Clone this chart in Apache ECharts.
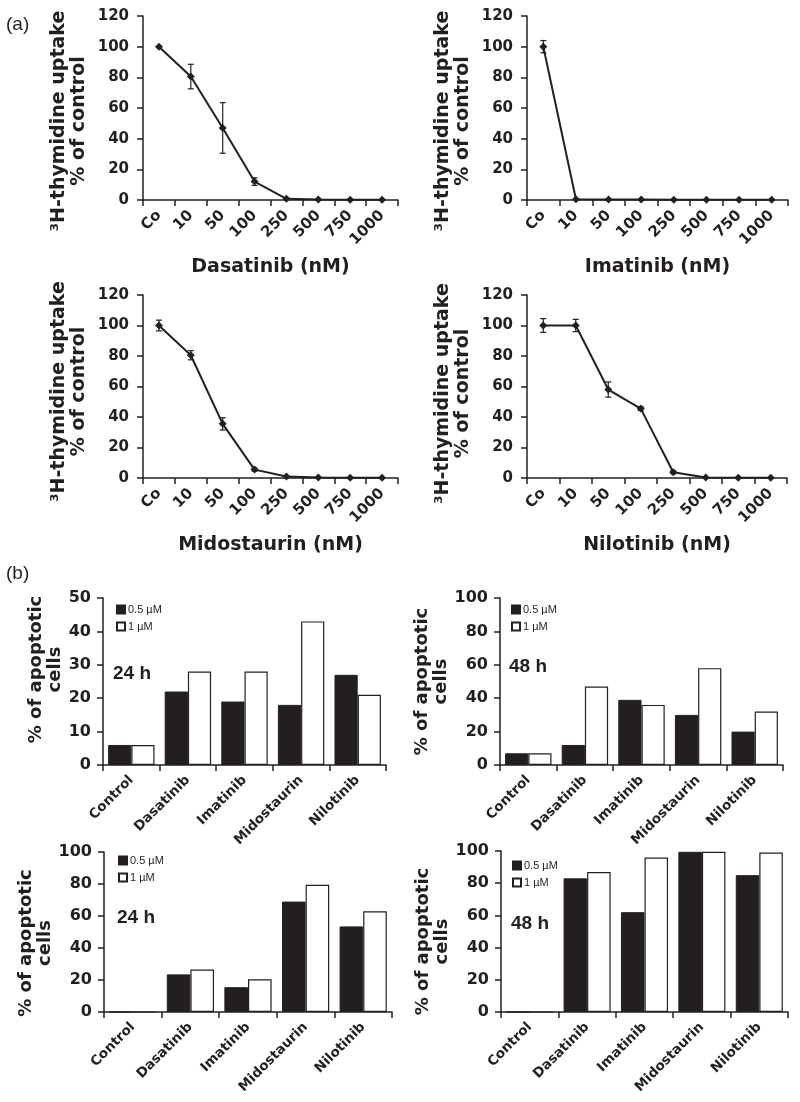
<!DOCTYPE html>
<html><head><meta charset="utf-8">
<script src="https://cdn.jsdelivr.net/npm/echarts@6/dist/echarts.min.js"></script>
<style>html,body{margin:0;padding:0;background:#fff}#c{width:800px;height:1102px}</style>
</head><body><div id="c"></div>
<script>
// ---- data: panel (a) proliferation ----
const doseCats = ['Co', '10', '50', '100', '250', '500', '750', '1000'];
const dasatinib    = [100, 80.5, 47, 12, 0.8, 0.3, 0.2, 0.2];
const dasatinibErr = [0, 8, 16.5, 2.5, 0, 0, 0, 0];
const imatinib     = [100, 0.5, 0.3, 0.3, 0.2, 0.2, 0.2, 0.2];
const imatinibErr  = [4, 0, 0, 0, 0, 0, 0, 0];
const midostaurin    = [100, 80.5, 35.5, 5.5, 1, 0.3, 0.2, 0.2];
const midostaurinErr = [3.5, 3, 4, 1, 0, 0, 0, 0];
const nilotinib    = [100, 100, 58, 45.5, 3.8, 0.3, 0.2, 0.2];
const nilotinibErr = [4.5, 4, 5, 1.2, 1, 0, 0, 0];
const lineTitles = ['Dasatinib (nM)', 'Imatinib (nM)', 'Midostaurin (nM)', 'Nilotinib (nM)'];

// ---- data: panel (b) apoptosis ----
const drugCats = ['Control', 'Dasatinib', 'Imatinib', 'Midostaurin', 'Nilotinib'];
const seriesNames = ['0.5 µM', '1 µM'];
const top24Low  = [6, 22, 19, 18, 27];
const top24High = [6, 28, 28, 43, 21];
const top48Low  = [7, 12, 39, 30, 20];
const top48High = [7, 47, 36, 58, 32];
const bot24Low  = [0, 23.5, 15.5, 69, 53.5];
const bot24High = [0, 26.5, 20.5, 79.5, 63];
const bot48Low  = [0, 83, 62, 99.5, 85];
const bot48High = [0, 87, 96, 99.5, 99];
const timeLabels = ['24 h', '48 h', '24 h', '48 h'];
const barMax = [50, 100, 100, 100];
const barStep = [10, 20, 20, 20];

const INK = '#231f20';
const F = 'DejaVu Sans';

const lineData = [[dasatinib, dasatinibErr], [imatinib, imatinibErr], [midostaurin, midostaurinErr], [nilotinib, nilotinibErr]];
const barData = [[top24Low, top24High], [top48Low, top48High], [bot24Low, bot24High], [bot48Low, bot48High]];

const grids = [
  {left: 143, top: 16, width: 255, height: 184},
  {left: 527, top: 16, width: 261, height: 184},
  {left: 143, top: 295, width: 255, height: 183},
  {left: 527, top: 295, width: 260, height: 183},
  {left: 103, top: 598, width: 283, height: 167},
  {left: 500, top: 598, width: 283, height: 167},
  {left: 104, top: 852, width: 288, height: 160},
  {left: 501, top: 851, width: 287, height: 161}
].map(g => Object.assign({outerBoundsMode: 'none', containLabel: false}, g));
// shift of the y-axis titles along the axis (padding in text coords)
const lineNamePad = [[0, 26, 0, 0], [0, 26, 0, 0], [0, 10, 0, 0], [0, 14, 0, 0]];
const barNamePad = [[0, 0, 0, 24], [0, 0, 0, 0], [0, 22, 0, 0], [0, 20, 0, 0]];

const xAxes = [], yAxes = [], series = [];
const axisLine = {show: true, lineStyle: {color: INK, width: 1.5}};
const axisTick = {show: true, length: 6, lineStyle: {color: INK, width: 1.5}};

lineData.forEach((d, i) => {
  xAxes.push({type: 'category', gridIndex: i, data: doseCats, boundaryGap: true,
    axisLine, axisTick,
    axisLabel: {rotate: 45, interval: 0, fontSize: 15, fontWeight: 'bold', fontFamily: F, color: INK, margin: 13},
    name: lineTitles[i], nameLocation: 'middle', nameGap: 58,
    nameTextStyle: {fontSize: 19, fontWeight: 'bold', fontFamily: F, color: INK}});
  yAxes.push({type: 'value', gridIndex: i, min: 0, max: 120, interval: 20, splitLine: {show: false},
    axisLine, axisTick,
    axisLabel: {fontSize: 15, fontWeight: 'bold', fontFamily: F, color: INK, margin: 14},
    name: '³H-thymidine uptake\n% of control', nameLocation: 'middle', nameRotate: 90, nameGap: 54,
    nameTextStyle: {fontSize: 19, fontWeight: 'bold', fontFamily: F, color: INK, lineHeight: 20, padding: lineNamePad[i]}});
  series.push({type: 'line', xAxisIndex: i, yAxisIndex: i, data: d[0], symbol: 'diamond', symbolSize: 8,
    lineStyle: {color: INK, width: 2}, itemStyle: {color: INK}, z: 3, silent: true});
  const errs = [];
  d[0].forEach((v, k) => { if (d[1][k] > 0) errs.push([k, v - d[1][k], v + d[1][k]]); });
  series.push({type: 'custom', xAxisIndex: i, yAxisIndex: i, data: errs, z: 4, silent: true,
    encode: {x: 0, y: [1, 2]},
    renderItem: function (params, api) {
      const x = api.value(0);
      const p1 = api.coord([x, api.value(2)]);
      const p2 = api.coord([x, api.value(1)]);
      const w = 3, st = {stroke: INK, lineWidth: 1.2};
      return {type: 'group', children: [
        {type: 'line', shape: {x1: p1[0], y1: p1[1], x2: p2[0], y2: p2[1]}, style: st},
        {type: 'line', shape: {x1: p1[0] - w, y1: p1[1], x2: p1[0] + w, y2: p1[1]}, style: st},
        {type: 'line', shape: {x1: p2[0] - w, y1: p2[1], x2: p2[0] + w, y2: p2[1]}, style: st}
      ]};
    }});
});

barData.forEach((d, j) => {
  const gi = 4 + j;
  xAxes.push({type: 'category', gridIndex: gi, data: drugCats, boundaryGap: true,
    axisLine, axisTick,
    axisLabel: {rotate: 45, interval: 0, fontSize: 13.5, fontWeight: 'bold', fontFamily: F, color: INK, margin: 13}});
  yAxes.push({type: 'value', gridIndex: gi, min: 0, max: barMax[j], interval: barStep[j], splitLine: {show: false},
    axisLine, axisTick,
    axisLabel: {fontSize: 16, fontWeight: 'bold', fontFamily: F, color: INK, margin: 12},
    name: '% of apoptotic\ncells', nameLocation: 'middle', nameRotate: 90, nameGap: 38,
    nameTextStyle: {fontSize: 18, fontWeight: 'bold', fontFamily: F, color: INK, lineHeight: 19, padding: barNamePad[j]}});
  series.push({type: 'bar', name: seriesNames[0], xAxisIndex: gi, yAxisIndex: gi, data: d[0],
    barGap: '0%', barCategoryGap: '18%', silent: true,
    itemStyle: {color: INK, borderColor: INK, borderWidth: 1}});
  series.push({type: 'bar', name: seriesNames[1], xAxisIndex: gi, yAxisIndex: gi, data: d[1],
    barGap: '0%', barCategoryGap: '18%', silent: true,
    itemStyle: {color: '#ffffff', borderColor: INK, borderWidth: 1.2}});
});

const legendPos = [[116, 604], [511, 604], [118, 855], [512, 860]];
const legends = legendPos.map(p => ({
  data: seriesNames, orient: 'vertical', left: p[0], top: p[1], padding: 0,
  icon: 'rect', itemWidth: 8, itemHeight: 8, itemGap: 6, selectedMode: false,
  textStyle: {fontSize: 11, fontFamily: 'Liberation Sans', color: INK, padding: [0, 0, 0, -2]}
}));

const timePos = [[113, 664], [509, 657], [117, 908], [511, 914]];
const titles = [
  {text: '(a)', left: 6, top: 15, padding: 0, textStyle: {fontSize: 19, fontWeight: 'normal', fontFamily: 'Liberation Sans', color: INK}},
  {text: '(b)', left: 6, top: 564, padding: 0, textStyle: {fontSize: 19, fontWeight: 'normal', fontFamily: 'Liberation Sans', color: INK}}
].concat(timeLabels.map((t, k) => ({text: t, left: timePos[k][0], top: timePos[k][1], padding: 0,
  textStyle: {fontSize: 19, fontWeight: 'bold', fontFamily: 'Liberation Sans', color: INK}})));

const chart = echarts.init(document.getElementById('c'), null, {renderer: 'canvas'});
chart.setOption({
  animation: false,
  backgroundColor: '#fff',
  title: titles,
  legend: legends,
  grid: grids,
  xAxis: xAxes,
  yAxis: yAxes,
  series: series
});
</script></body></html>
